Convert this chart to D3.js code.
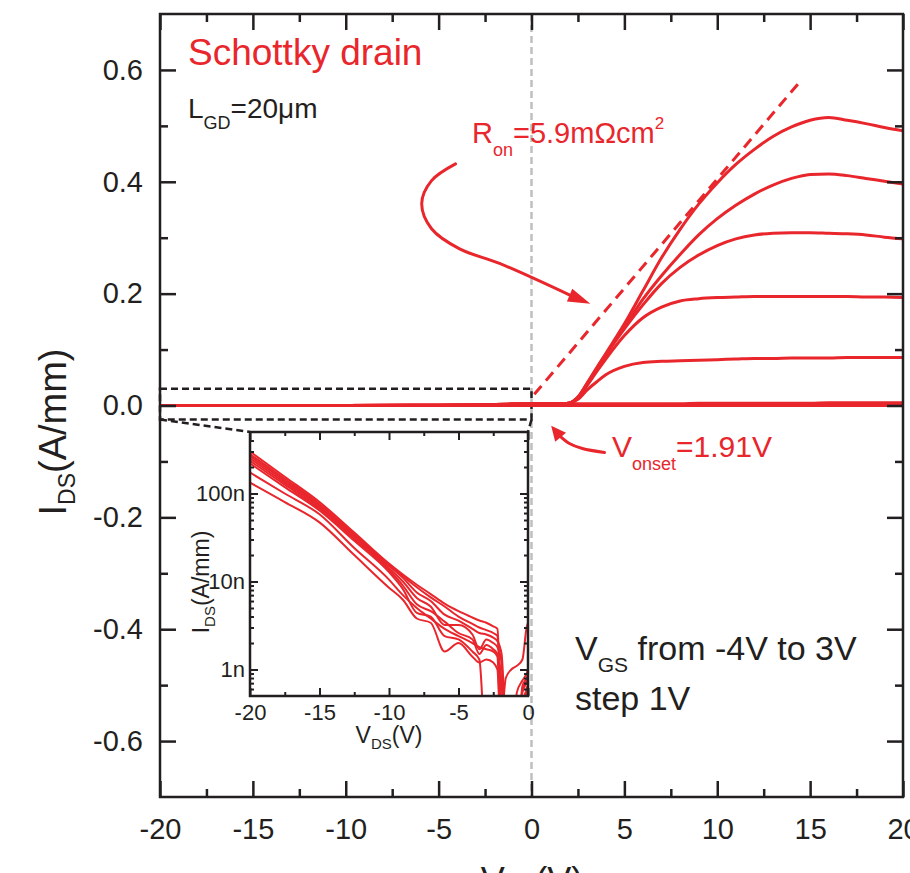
<!DOCTYPE html>
<html><head><meta charset="utf-8">
<script src="https://cdn.jsdelivr.net/npm/d3@7"></script>
<style>html,body{margin:0;padding:0;background:#fff;} svg{display:block;}</style>
</head><body><svg id="c" width="910" height="873"></svg>
<script>
// ---------------- data ----------------
// main output curves, I_DS (A/mm) vs V_DS (V), V_GS = -4 ... 3 V
const vds = [-20,-10,-5,-3,-1,0,1,1.5,2,2.5,3,3.5,4,5,6,7,8,9,10,11,12,13,14,15,16,17,18,19,20];
const idsVgs3  = [0,0,0.0005,0.001,0.0025,0.003,0.003,0.003,0.004,0.015,0.040,0.067,0.093,0.146,0.205,0.264,0.315,0.360,0.398,0.431,0.458,0.481,0.498,0.510,0.515,0.510,0.504,0.497,0.491];
const idsVgs2  = [0,0,0.0005,0.001,0.0025,0.003,0.003,0.003,0.004,0.015,0.040,0.066,0.091,0.140,0.190,0.232,0.270,0.305,0.334,0.358,0.378,0.394,0.406,0.413,0.414,0.411,0.406,0.401,0.396];
const idsVgs1  = [0,0,0.0005,0.001,0.0025,0.003,0.003,0.003,0.004,0.014,0.038,0.064,0.090,0.137,0.180,0.218,0.247,0.269,0.286,0.298,0.305,0.308,0.309,0.309,0.308,0.307,0.305,0.301,0.298];
const idsVgs0  = [0,0,0.0005,0.001,0.0025,0.003,0.003,0.003,0.004,0.013,0.036,0.060,0.083,0.125,0.157,0.176,0.187,0.191,0.193,0.194,0.195,0.195,0.195,0.195,0.195,0.195,0.194,0.194,0.193];
const idsVgsM1 = [0,0,0.0005,0.001,0.0025,0.003,0.003,0.003,0.004,0.011,0.028,0.042,0.055,0.070,0.077,0.079,0.080,0.081,0.082,0.083,0.084,0.084,0.085,0.085,0.085,0.086,0.086,0.086,0.086];
const idsVgsM2 = [0,0,0.0005,0.001,0.002,0.003,0.003,0.003,0.003,0.003,0.003,0.003,0.003,0.003,0.003,0.003,0.003,0.004,0.004,0.004,0.004,0.004,0.004,0.004,0.005,0.005,0.005,0.005,0.005];
const idsVgsM3 = [0,0,0,0.0005,0.001,0.0015,0.0015,0.0015,0.0015,0.0015,0.0015,0.0015,0.0015,0.0015,0.0015,0.0015,0.002,0.002,0.002,0.002,0.002,0.002,0.002,0.002,0.002,0.002,0.002,0.002,0.002];
const idsVgsM4 = [0,0,0,0,0,0,0,0,0,0,0,0,0,0,0,0,0,0,0,0,0,0,0,0,0,0,0,0,0];
const mainSeries = [idsVgsM4, idsVgsM3, idsVgsM2, idsVgsM1, idsVgs0, idsVgs1, idsVgs2, idsVgs3];
// on-resistance fit line (dashed)
const ronFitV = [0.15, 14.4];
const ronFitI = [0.02, 0.577];

// inset: |I_DS| (A/mm), log scale, V_DS from -20 to 0
const insetVds = [-20,-17.5,-15,-12.5,-10,-9,-8,-7,-6,-5,-4,-3.5,-3,-2.5,-2.2,-1.9,-1.6,-1.2,-0.8,-0.4,-0.1,0];
const insA = [3.0e-7,1.55e-7,8.0e-8,3.6e-8,1.6e-8,1.2e-8,9.2e-9,7.2e-9,5.6e-9,4.6e-9,3.9e-9,3.6e-9,3.4e-9,3.1e-9,2.9e-9,3e-10,8e-10,1.0e-9,1.1e-9,1.3e-9,3.0e-9,3.4e-9];
const insB = [2.8e-7,1.47e-7,7.6e-8,3.45e-8,1.55e-8,1.15e-8,8.6e-9,6.6e-9,5.2e-9,4.0e-9,3.3e-9,3.0e-9,2.8e-9,2.6e-9,2.4e-9,3e-10,1e-10,1e-10,5.5e-10,7.5e-10,9e-10,1.0e-9];
const insC = [2.65e-7,1.4e-7,7.3e-8,3.3e-8,1.5e-8,1.1e-8,7.5e-9,6.0e-9,4.2e-9,3.6e-9,2.9e-9,2.6e-9,2.5e-9,2.3e-9,2.1e-9,1.5e-9,2e-10,1e-10,1e-10,6.5e-10,8e-10,8.8e-10];
const insD = [2.5e-7,1.33e-7,7.0e-8,3.2e-8,1.42e-8,1.0e-8,6.5e-9,5.2e-9,3.2e-9,3.2e-9,2.5e-9,1.7e-9,2.2e-9,2.0e-9,1.8e-9,1.2e-9,1e-10,1e-10,1e-10,6e-10,7.5e-10,8e-10];
const insE = [2.35e-7,1.26e-7,6.7e-8,3.05e-8,1.35e-8,9.0e-9,5.5e-9,4.6e-9,3.5e-9,2.6e-9,2.2e-9,1.5e-9,1.9e-9,1.7e-9,1.5e-9,7e-10,1e-10,1e-10,1e-10,5.5e-10,7e-10,7.2e-10];
const insF = [2.2e-7,1.18e-7,6.4e-8,2.9e-8,1.28e-8,8.2e-9,4.4e-9,4.0e-9,2.4e-9,2.2e-9,1.6e-9,1.3e-9,1e-10,1e-10,1e-10,1e-10,1e-10,1e-10,1e-10,1e-10,6.2e-10,6.5e-10];
const insG = [1.73e-7,1.0e-7,5.8e-8,2.4e-8,1.05e-8,7.0e-9,5.0e-9,3.8e-9,2.9e-9,2.4e-9,2.0e-9,1.8e-9,1.7e-9,1.6e-9,1.4e-9,1e-10,1e-10,1e-10,1e-10,4e-10,5.8e-10,6e-10];
const insH = [1.33e-7,8.0e-8,4.7e-8,2.0e-8,8.5e-9,6.2e-9,3.8e-9,3.4e-9,1.6e-9,2.0e-9,1.4e-9,1.2e-9,1.3e-9,1.2e-9,1.0e-9,1e-10,1e-10,1e-10,1e-10,1e-10,5.3e-10,5.5e-10];
const insetSeries = [insA, insB, insC, insD, insE, insF, insG, insH];

// ticks
const mainXTicks = [-20,-15,-10,-5,0,5,10,15,20];
const mainXMinor = [-17.5,-12.5,-7.5,-2.5,2.5,7.5,12.5,17.5];
const mainYTicks = [-0.6,-0.4,-0.2,0,0.2,0.4,0.6];
const mainYMinor = [-0.5,-0.3,-0.1,0.1,0.3,0.5];
const insetXTicks = [-20,-15,-10,-5,0];
const insetXMinor = [-17.5,-12.5,-7.5,-2.5];
const insetYTicks = [1e-9,1e-8,1e-7];
const insetYLabels = ["1n","10n","100n"];
const insetYMinor = [6e-10,7e-10,8e-10,9e-10,2e-9,3e-9,4e-9,5e-9,6e-9,7e-9,8e-9,9e-9,2e-8,3e-8,4e-8,5e-8,6e-8,7e-8,8e-8,9e-8,2e-7,3e-7,4e-7];

// annotation anchor points (data units)
const zoomBoxV = [-20, 0];
const zoomBoxI = [-0.025, 0.03];
const ronArrowV = [-4.09,-5.38,-5.91,-5.38,-3.87,-1.72,2.15];
const ronArrowI = [0.432,0.402,0.361,0.316,0.280,0.254,0.196];
const ronArrowTip = [3.17, 0.182];
const onsetArrowV = [3.93,2.74,2.04,1.50];
const onsetArrowI = [-0.084,-0.077,-0.068,-0.054];
const onsetArrowTip = [1.06,-0.036];

// ---------------- drawing ----------------
const FONT = '"Liberation Sans", Arial, Helvetica, sans-serif';
const RED = "#e8262c", INK = "#231f20", GRAY = "#bfbfbf";
const svg = d3.select("#c").style("font-family", FONT);

const F = {l:160, r:903, t:14, b:797};
const x = d3.scaleLinear().domain([-20,20]).range([F.l,F.r]);
const y = d3.scaleLinear().domain([-0.7,0.7]).range([F.b,F.t]);

// zero line
svg.append("line").attr("x1",x(0)).attr("x2",x(0)).attr("y1",F.t).attr("y2",F.b)
  .attr("stroke",GRAY).attr("stroke-width",2.5).attr("stroke-dasharray","7,4");

// dashed zoom box
svg.append("rect").attr("x",x(zoomBoxV[0])).attr("y",y(zoomBoxI[1]))
  .attr("width",x(zoomBoxV[1])-x(zoomBoxV[0])).attr("height",y(zoomBoxI[0])-y(zoomBoxI[1]))
  .attr("fill","none").attr("stroke",INK).attr("stroke-width",2.5).attr("stroke-dasharray","7,4");

// main curves
const mline = d3.line().x(d=>x(d[0])).y(d=>y(d[1])).curve(d3.curveMonotoneX);
mainSeries.forEach(s=>{
  svg.append("path").attr("d", mline(vds.map((v,i)=>[v,s[i]])))
    .attr("fill","none").attr("stroke",RED).attr("stroke-width",3).attr("stroke-linejoin","round");
});
// Ron fit dashed
svg.append("path").attr("d", d3.line().x(d=>x(d[0])).y(d=>y(d[1]))(ronFitV.map((v,i)=>[v,ronFitI[i]])))
  .attr("stroke",RED).attr("stroke-width",3).attr("stroke-dasharray","11,7").attr("fill","none");

// arrows
function arrow(vs, is, tip, halfW){
  const pts = vs.map((v,i)=>[x(v), y(is[i])]);
  svg.append("path").attr("d", d3.line().curve(d3.curveCatmullRom)(pts))
    .attr("fill","none").attr("stroke",RED).attr("stroke-width",3).attr("stroke-linecap","round");
  const b = pts[pts.length-1], t = [x(tip[0]), y(tip[1])];
  const dx=t[0]-b[0], dy=t[1]-b[1], L=Math.hypot(dx,dy), nx=-dy/L, ny=dx/L;
  const bb = [b[0]-dx/L*2, b[1]-dy/L*2];
  svg.append("path").attr("d",`M${t[0]},${t[1]}L${bb[0]+nx*halfW},${bb[1]+ny*halfW}L${bb[0]-nx*halfW},${bb[1]-ny*halfW}Z`)
    .attr("fill",RED);
}
arrow(ronArrowV, ronArrowI, ronArrowTip, 7);
arrow(onsetArrowV, onsetArrowI, onsetArrowTip, 7);

// main frame
svg.append("rect").attr("x",F.l).attr("y",F.t).attr("width",F.r-F.l).attr("height",F.b-F.t)
  .attr("fill","none").attr("stroke",INK).attr("stroke-width",2.5);

// axes
function ax(gen, tr, vals, size, fmt, pad, fs, sw){
  const g = svg.append("g").attr("transform",tr)
    .call(gen.tickValues(vals).tickSize(size).tickPadding(pad).tickFormat(fmt || (()=>"")));
  g.select(".domain").remove();
  g.selectAll("line").attr("stroke",INK).attr("stroke-width",sw);
  g.selectAll("text").attr("fill",INK).style("font-size",fs+"px").style("font-family",FONT);
  return g;
}
const fx = d=>String(d), fy = d=>d.toFixed(1);
ax(d3.axisBottom(x), `translate(0,${F.b})`, mainXTicks, -16, fx, 21, 29, 2.5);
ax(d3.axisBottom(x), `translate(0,${F.b})`, mainXMinor, -8, null, 0, 29, 2.5);
ax(d3.axisTop(x), `translate(0,${F.t})`, mainXTicks, -16, null, 0, 29, 2.5);
ax(d3.axisTop(x), `translate(0,${F.t})`, mainXMinor, -8, null, 0, 29, 2.5);
ax(d3.axisLeft(y), `translate(${F.l},0)`, mainYTicks, -16, fy, 17, 29, 2.5);
ax(d3.axisLeft(y), `translate(${F.l},0)`, mainYMinor, -8, null, 0, 29, 2.5);
ax(d3.axisRight(y), `translate(${F.r},0)`, mainYTicks, -16, null, 0, 29, 2.5);
ax(d3.axisRight(y), `translate(${F.r},0)`, mainYMinor, -8, null, 0, 29, 2.5);

// ---------------- inset ----------------
const I = {l:250, r:528, t:432, b:696};
const ix = d3.scaleLinear().domain([-20,0]).range([I.l,I.r]);
const iy = d3.scaleLog().domain([5e-10,5e-7]).range([I.b,I.t]);

// connectors
[[zoomBoxV[0], I.l],[zoomBoxV[1], I.r]].forEach(([v,px])=>{
  svg.append("line").attr("x1",x(v)).attr("y1",y(zoomBoxI[0])).attr("x2",px).attr("y2",I.t)
    .attr("stroke",INK).attr("stroke-width",2.5).attr("stroke-dasharray","7,4");
});
svg.append("rect").attr("x",I.l).attr("y",I.t).attr("width",I.r-I.l).attr("height",I.b-I.t).attr("fill","#fff");
svg.append("defs").append("clipPath").attr("id","ic").append("rect")
  .attr("x",I.l).attr("y",I.t).attr("width",I.r-I.l).attr("height",I.b-I.t);
const iline = d3.line().x(d=>ix(d[0])).y(d=>iy(d[1])).curve(d3.curveMonotoneX);
const ig = svg.append("g").attr("clip-path","url(#ic)");
insetSeries.forEach(s=>{
  ig.append("path").attr("d", iline(insetVds.map((v,i)=>[v,s[i]])))
    .attr("fill","none").attr("stroke",RED).attr("stroke-width",2).attr("stroke-linejoin","round");
});
svg.append("rect").attr("x",I.l).attr("y",I.t).attr("width",I.r-I.l).attr("height",I.b-I.t)
  .attr("fill","none").attr("stroke",INK).attr("stroke-width",2.5);

const fiy = d=>insetYLabels[insetYTicks.indexOf(d)];
ax(d3.axisBottom(ix), `translate(0,${I.b})`, insetXTicks, -8, fx, 8, 22, 2);
ax(d3.axisBottom(ix), `translate(0,${I.b})`, insetXMinor, -4, null, 0, 22, 2);
ax(d3.axisTop(ix), `translate(0,${I.t})`, insetXTicks, -8, null, 0, 22, 2);
ax(d3.axisTop(ix), `translate(0,${I.t})`, insetXMinor, -4, null, 0, 22, 2);
ax(d3.axisLeft(iy), `translate(${I.l},0)`, insetYTicks, -8, fiy, 5, 22, 2);
ax(d3.axisLeft(iy), `translate(${I.l},0)`, insetYMinor, -4, null, 0, 22, 2);
ax(d3.axisRight(iy), `translate(${I.r},0)`, insetYTicks, -8, null, 0, 22, 2);
ax(d3.axisRight(iy), `translate(${I.r},0)`, insetYMinor, -4, null, 0, 22, 2);

// ---------------- texts ----------------
function rich(tr, parts, anchor, color){
  const t = svg.append("text").attr("transform",tr).attr("text-anchor",anchor||"start").attr("fill",color||INK);
  parts.forEach(p=>{
    const s = t.append("tspan").text(p[0]).style("font-size",p[1]+"px");
    if (p[2]) s.attr("dy",p[2]);
  });
  return t;
}
// main axis titles
rich("translate(66,432) rotate(-90)", [["I",38],["DS",23,9],["(A/mm)",38,-9]], "middle");
rich("translate(532,893)", [["V",36],["DS",22,9],["(V)",36,-9]], "middle");
// inset axis titles
rich("translate(209,582) rotate(-90)", [["I",23],["DS",15,6],["(A/mm)",23,-6]], "middle");
rich("translate(389,743)", [["V",23],["DS",15,6],["(V)",23,-6]], "middle");

rich("translate(188,65)", [["Schottky drain",37]], "start", RED);
rich("translate(188,118)", [["L",28],["GD",18,11],["=20\u03bcm",28,-11]], "start", INK);
rich("translate(472,143)", [["R",29],["on",18,13],["=5.9m\u03a9cm",29,-13],["2",17,-14]], "start", RED);
rich("translate(612,457)", [["V",30],["onset",18,13],["=1.91V",30,-13]], "start", RED);
rich("translate(575,660)", [["V",34],["GS",21,12],[" from -4V to 3V",34,-12]], "start", INK);
rich("translate(575,710)", [["step 1V",34]], "start", INK);
</script>
</body></html>
